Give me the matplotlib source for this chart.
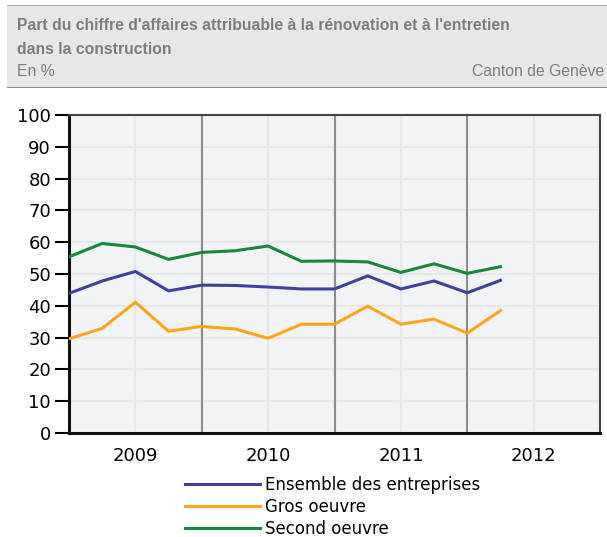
import numpy as np
import matplotlib.pyplot as plt
from matplotlib.patches import Rectangle
from matplotlib.lines import Line2D

# données trimestrielles 2009 T1 - 2012 T2
trimestres = ['2009T1', '2009T2', '2009T3', '2009T4',
              '2010T1', '2010T2', '2010T3', '2010T4',
              '2011T1', '2011T2', '2011T3', '2011T4',
              '2012T1', '2012T2']
ensemble = [43.9, 47.8, 50.8, 44.7, 46.5, 46.4, 45.9, 45.3,
            45.3, 49.4, 45.3, 47.8, 44.1, 48.0]
gros_oeuvre = [29.6, 32.9, 41.1, 32.0, 33.5, 32.7, 29.8, 34.2,
               34.2, 39.9, 34.2, 35.8, 31.4, 38.5]
second_oeuvre = [55.4, 59.6, 58.5, 54.6, 56.8, 57.3, 58.8, 54.0,
                 54.1, 53.8, 50.5, 53.2, 50.2, 52.3]
annees = [2009, 2010, 2011, 2012]

x = np.array([int(t[:4]) + (int(t[-1]) - 1) / 4 for t in trimestres])

W, H = 607, 537
fig = plt.figure(figsize=(W / 100, H / 100), dpi=100)

def fy(px):
    return 1 - px / H

# bandeau de titre
hdr = fig.add_axes([7 / W, fy(88), 1 - 7 / W, 83 / H])
hdr.set_xlim(0, 1)
hdr.set_ylim(0, 1)
hdr.axis('off')
hdr.add_patch(Rectangle((0, 0), 1, 1, facecolor='#e6e7e8', edgecolor='none'))
hdr.axhline(1, color='#b0b0b0', lw=1.5)
hdr.axhline(0, color='#8a8a8a', lw=1.5)

gris = '#7d7d7d'
police = 'Liberation Sans'
fig.text(17 / W, fy(30.5), "Part du chiffre d'affaires attribuable à la rénovation et à l'entretien",
         fontsize=11.3, fontweight='bold', color=gris, family=police, va='baseline')
fig.text(17 / W, fy(54), "dans la construction",
         fontsize=11.3, fontweight='bold', color=gris, family=police, va='baseline')
fig.text(17 / W, fy(76.5), "En %", fontsize=11.3, color=gris, family=police, va='baseline')
fig.text(604 / W, fy(76.5), "Canton de Genève", fontsize=11.3, color=gris, family=police,
         va='baseline', ha='right')

# graphique
ax = fig.add_axes([69 / W, fy(433), (600 - 69) / W, (433 - 115) / H])
ax.set_facecolor('#f2f3f5')
ax.set_xlim(2009, 2013)
ax.set_ylim(0, 100)
ax.set_yticks(range(0, 101, 10))
ax.set_xticks([a + 0.5 for a in annees])
ax.set_xticklabels([str(a) for a in annees])
ax.tick_params(axis='y', length=10, width=1.5, labelsize=13, pad=3)
ax.tick_params(axis='x', length=0, labelsize=13, pad=10)

for yv in range(10, 100, 10):
    ax.axhline(yv, color='#e6e7ea', lw=1.5, zorder=1)
for a in annees:
    ax.axvline(a + 0.5, color='#e6e7ea', lw=1.5, zorder=1)
for a in annees[1:]:
    ax.axvline(a, color='#8c8c8c', lw=1.5, zorder=2)

for s in ['left', 'bottom']:
    ax.spines[s].set_linewidth(2.2)
    ax.spines[s].set_color('#111111')
for s in ['top', 'right']:
    ax.spines[s].set_linewidth(1.5)
    ax.spines[s].set_color('#444444')

c_bleu, c_orange, c_vert = '#4040a0', '#fca61e', '#17873a'
ax.plot(x, ensemble, color=c_bleu, lw=2.2, zorder=3)
ax.plot(x, gros_oeuvre, color=c_orange, lw=2.2, zorder=3)
ax.plot(x, second_oeuvre, color=c_vert, lw=2.2, zorder=3)

handles = [Line2D([], [], color=c_bleu, lw=2.2),
           Line2D([], [], color=c_orange, lw=2.2),
           Line2D([], [], color=c_vert, lw=2.2)]
fig.legend(handles, ['Ensemble des entreprises', 'Gros oeuvre', 'Second oeuvre'],
           loc='upper left', bbox_to_anchor=(185 / W, fy(476)),
           frameon=False, fontsize=12, handlelength=4.5, handletextpad=0.3,
           labelspacing=0.24, borderpad=0, borderaxespad=0)

plt.savefig('out.png', dpi=100)
plt.close()
